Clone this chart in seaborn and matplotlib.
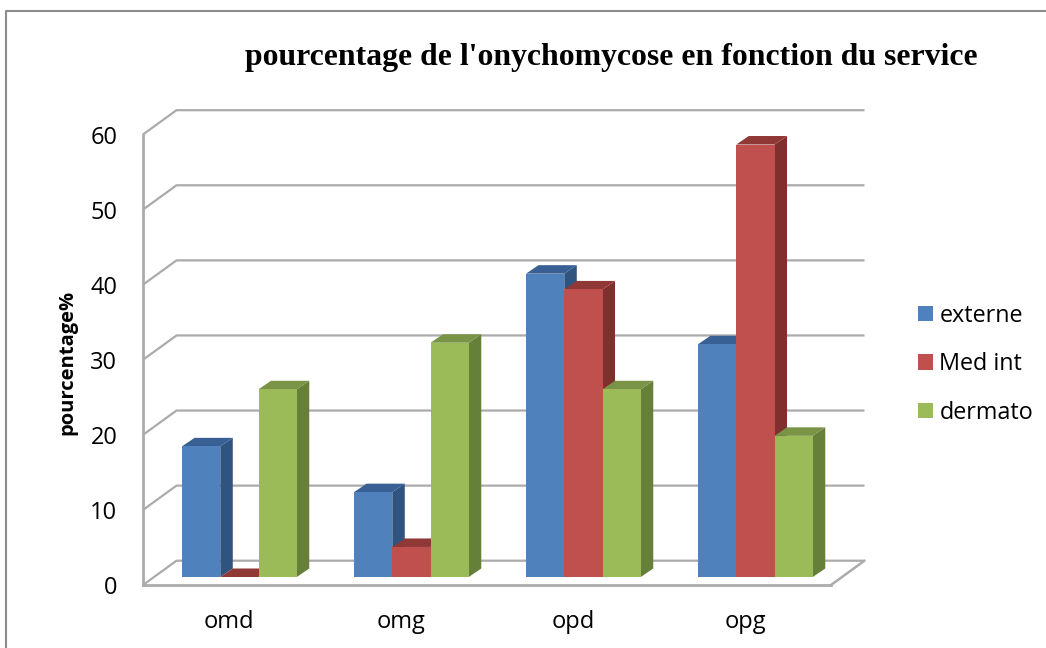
import pandas as pd
import matplotlib
matplotlib.use("Agg")
import matplotlib.pyplot as plt
from matplotlib.lines import Line2D
from matplotlib.patches import Polygon
import seaborn as sns

# Datos
categories = ["omd", "omg", "opd", "opg"]
series_names = ["externe", "Med int", "dermato"]
externe = [17.4, 11.3, 40.4, 31.0]
med_int = [0.0, 4.0, 38.3, 57.6]
dermato = [25.0, 31.2, 25.0, 18.8]
y_ticks = [0, 10, 20, 30, 40, 50, 60]

df = pd.DataFrame({"service": categories, "externe": externe, "Med int": med_int, "dermato": dermato})
df = df.melt(id_vars="service", var_name="serie", value_name="pct")

front = {"externe": "#4f81bd", "Med int": "#c0504d", "dermato": "#9bbb59"}
side = {"externe": "#2f5480", "Med int": "#7f302e", "dermato": "#66803a"}
top = {"externe": "#386094", "Med int": "#8f3836", "dermato": "#7a9447"}
wall = "#ababab"

sns.set_theme(style="white")
plt.rcParams["font.family"] = ["Open Sans", "DejaVu Sans"]

W, H = 1046, 648
fig = plt.figure(figsize=(W / 100, H / 100), dpi=100)
# le plan avant du graphique, en pixels
left, right, y0, y60 = 143, 831, 585, 134.5
ax = fig.add_axes([left / W, 1 - y0 / H, (right - left) / W, (y0 - y60) / H])

sns.barplot(data=df, x="service", y="pct", hue="serie", order=categories, hue_order=series_names,
            palette=front, saturation=1, width=0.667, gap=0, linewidth=0, edgecolor="none", ax=ax)
ax.set_xlim(-0.5, 3.5)
ax.set_ylim(0, 60)

# pixels -> donnees
px_x = 4 / (right - left)
px_y = 60 / (y0 - y60)


def depth(px_dx, px_dy):
    return px_dx * px_x, px_dy * px_y


# murs et sol (fausse 3D)
wx, wy = depth(33.5, 24.3)
for t in y_ticks:
    ax.plot([-0.5, -0.5 + wx, 3.5 + wx], [t, t + wy, t + wy], color=wall, lw=1.6,
            clip_on=False, zorder=1, solid_capstyle="butt")
ax.plot([3.5, 3.5 + wx], [0, wy], color=wall, lw=1.8, clip_on=False, zorder=1)

# les barres: face avant decalee, puis cote et dessus
sx, sy = depth(10.4, 8)
dx, dy = depth(12.5, 8.5)
order = 2
for name, container in zip(series_names, ax.containers):
    for bar in container:
        bar.set_x(bar.get_x() + sx)
        bar.set_y(sy)
        bar.set_clip_on(False)
        x0 = bar.get_x()
        x1 = x0 + bar.get_width()
        yb = sy
        yt = sy + bar.get_height()
        ax.add_patch(Polygon([(x1, yb), (x1 + dx, yb + dy), (x1 + dx, yt + dy), (x1, yt)],
                             facecolor=side[name], edgecolor="none", clip_on=False, zorder=order))
        ax.add_patch(Polygon([(x0, yt), (x0 + dx, yt + dy), (x1 + dx, yt + dy), (x1, yt)],
                             facecolor=top[name], edgecolor="none", clip_on=False, zorder=order))
        bar.set_zorder(order + 0.5)
    order += 1

# axes
sns.despine(ax=ax)
for s in ["left", "bottom"]:
    ax.spines[s].set_color(wall)
    ax.spines[s].set_linewidth(2.0)
    ax.spines[s].set_zorder(1.5)
ax.set_yticks(y_ticks)
ax.tick_params(axis="y", length=0, pad=18.5, labelsize=17, labelcolor="black")
ax.tick_params(axis="x", length=0, pad=18, labelsize=17, labelcolor="black")
ax.set_xlabel("")
ax.set_ylabel("pourcentage%", fontsize=14.5, fontweight="bold", color="black")
ax.yaxis.set_label_coords((77 - left) / (right - left), (y0 - 362) / (y0 - y60))

ax.set_title("pourcentage de l'onychomycose en fonction du service", family="Liberation Serif",
             fontweight="bold", fontsize=22.9, color="black", pad=0,
             x=(611 - left) / (right - left), y=(y0 - 65) / (y0 - y60))

handles, labels = ax.get_legend_handles_labels()
ax.legend(handles, labels, loc="center left", bbox_to_anchor=(918 / W, 1 - 364 / H),
          bbox_transform=fig.transFigure, frameon=False, fontsize=16.8, labelcolor="black",
          borderpad=0, borderaxespad=0, handlelength=0.65, handleheight=0.65,
          handletextpad=0.27, labelspacing=1.05)

# cadre du graphique (gauche et haut)
fig.add_artist(Line2D([6 / W, 6 / W, 1], [0, 1 - 11 / H, 1 - 11 / H], color="#8c8c8c", lw=1.5))

fig.savefig("out.png", dpi=100)
